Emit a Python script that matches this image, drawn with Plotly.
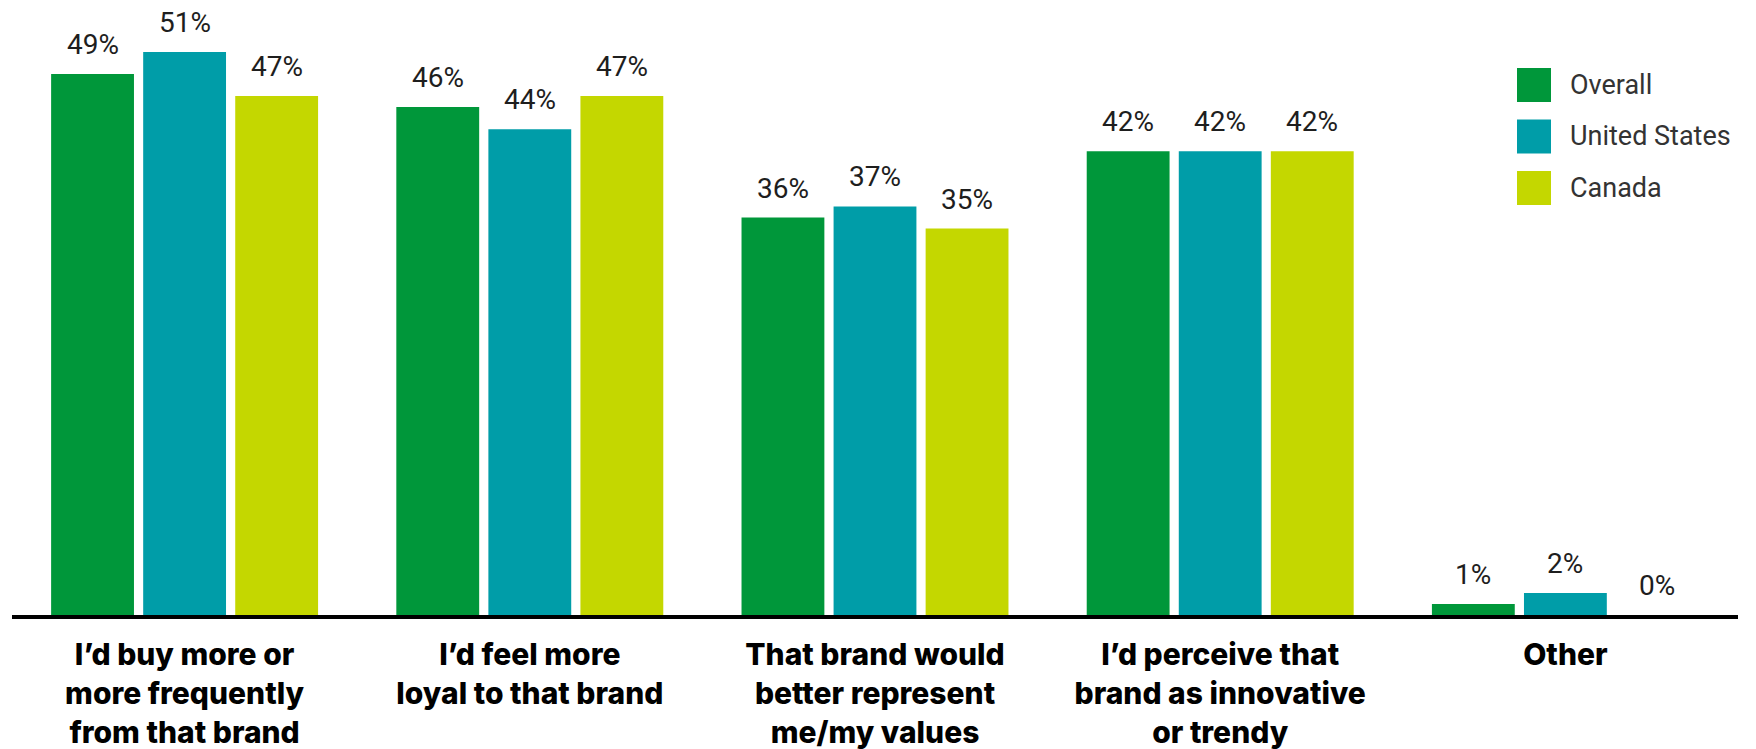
import plotly.graph_objects as go

# Survey answers (share of respondents, %)
categories = [
    "I’d buy more or<br>more frequently<br>from that brand",
    "I’d feel more<br>loyal to that brand",
    "That brand would<br>better represent<br>me/my values",
    "I’d perceive that<br>brand as innovative<br>or trendy",
    "Other",
]
series_names = ["Overall", "United States", "Canada"]
overall = [49, 46, 36, 42, 1]
united_states = [51, 44, 37, 42, 2]
canada = [47, 47, 35, 42, 0]
series_values = [overall, united_states, canada]
series_colors = ["#00973A", "#009DA8", "#C4D700"]

# Canvas / plot-area geometry in pixels
W, H = 1756, 749
PLOT_L, PLOT_R, PLOT_T, PLOT_B = 12, 1738, 0, 615
Y_MAX = 55.7
BARGAP = 0.2
BARGROUPGAP = 0.1
SLOT = (1 - BARGAP) / len(series_names)

VALUE_FONT = dict(family="Roboto, Arial, sans-serif", size=28, color="#1e1e1e")
LEGEND_FONT = dict(family="Roboto, Arial, sans-serif", size=27, color="#333333")
TICK_FONT = dict(family="Inter, Arial, sans-serif", size=30, color="#000000", weight=800)


def paper_x(px):
    return (px - PLOT_L) / (PLOT_R - PLOT_L)


def paper_y(py):
    return (PLOT_B - py) / (PLOT_B - PLOT_T)


fig = go.Figure()
x_pos = list(range(len(categories)))

for name, vals, color in zip(series_names, series_values, series_colors):
    fig.add_trace(go.Bar(
        x=x_pos, y=vals, name=name,
        marker=dict(color=color, line=dict(width=0)),
        showlegend=False, hoverinfo="skip",
    ))

# Value labels above each bar
annotations = []
for j, vals in enumerate(series_values):
    offset = (j - (len(series_names) - 1) / 2) * SLOT
    for i, v in enumerate(vals):
        annotations.append(dict(
            x=i + offset, y=v, xref="x", yref="y",
            text=f"{v}%", showarrow=False,
            xanchor="center", yanchor="bottom", yshift=11,
            font=VALUE_FONT,
        ))

# Legend with large square swatches
LEG_X, LEG_TOP, LEG_SIZE, LEG_STEP, LEG_TEXT_X = 1517, 68, 34, 51.5, 1568
shapes = []
for k, (name, color) in enumerate(zip(series_names, series_colors)):
    top = LEG_TOP + k * LEG_STEP
    shapes.append(dict(
        type="rect", xref="paper", yref="paper",
        x0=paper_x(LEG_X), x1=paper_x(LEG_X + LEG_SIZE),
        y0=paper_y(top + LEG_SIZE), y1=paper_y(top),
        fillcolor=color, line=dict(width=0),
    ))
    annotations.append(dict(
        x=paper_x(LEG_TEXT_X), y=paper_y(top + LEG_SIZE / 2),
        xref="paper", yref="paper", text=name, showarrow=False,
        xanchor="left", yanchor="middle", font=LEGEND_FONT,
    ))

fig.update_layout(
    width=W, height=H,
    margin=dict(l=PLOT_L, r=W - PLOT_R, t=PLOT_T, b=H - PLOT_B, autoexpand=False),
    paper_bgcolor="white", plot_bgcolor="white",
    barmode="group", bargap=BARGAP, bargroupgap=BARGROUPGAP,
    showlegend=False,
    annotations=annotations, shapes=shapes,
    xaxis=dict(
        range=[-0.5, len(categories) - 0.5],
        tickmode="array", tickvals=x_pos, ticktext=categories,
        showline=True, linecolor="#000000", linewidth=4,
        showgrid=False, zeroline=False, ticks="",
        tickfont=TICK_FONT, tickangle=0, ticklabelstandoff=10,
        automargin=False,
    ),
    yaxis=dict(range=[0, Y_MAX], visible=False, showgrid=False, zeroline=False,
               automargin=False),
)

fig.write_html("out.html")
